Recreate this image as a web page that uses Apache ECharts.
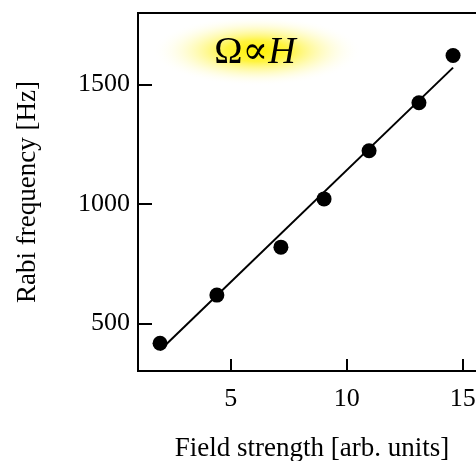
<!DOCTYPE html>
<html>
<head>
<meta charset="utf-8">
<script src="https://cdn.jsdelivr.net/npm/echarts@6/dist/echarts.min.js"></script>
<style>
html, body { margin: 0; padding: 0; background: #fff; }
#chart { width: 476px; height: 461px; }
</style>
</head>
<body>
<div id="chart"></div>
<script>
// measured points
var fieldStrength = [1.95, 4.4, 7.16, 9.02, 10.96, 13.11, 14.58];
var rabiFreq = [416, 618, 819, 1021, 1223, 1424, 1622];
// linear fit, drawn between its two end points
var fitX = [1.95, 14.58];
var fitY = [387, 1571];
var xTicks = [5, 10, 15];
var yTicks = [500, 1000, 1500];

var serif = '"Liberation Serif", "DejaVu Serif", serif';

var chart = echarts.init(document.getElementById('chart'));
chart.setOption({
    backgroundColor: '#fff',
    animation: false,
    grid: {
        left: 138,
        top: 13,
        bottom: 90,
        width: 348,
        outerBoundsMode: 'none',
        containLabel: false,
        show: true,
        borderColor: '#000',
        borderWidth: 2
    },
    xAxis: {
        type: 'value',
        min: 1,
        max: 16,
        name: 'Field strength [arb. units]',
        nameLocation: 'middle',
        nameGap: 64,
        nameTextStyle: { fontFamily: serif, fontSize: 27, color: '#000' },
        axisLine: { lineStyle: { color: '#000', width: 2 } },
        axisTick: { inside: true, length: 12, lineStyle: { color: '#000', width: 2 }, customValues: xTicks },
        axisLabel: { fontFamily: serif, fontSize: 26, color: '#000', margin: 15, customValues: xTicks,
            formatter: function (v) { return String(v); } },
        splitLine: { show: false }
    },
    yAxis: {
        type: 'value',
        min: 300,
        max: 1800,
        name: 'Rabi frequency [Hz]',
        nameLocation: 'middle',
        nameGap: 97,
        nameTextStyle: { fontFamily: serif, fontSize: 27, color: '#000' },
        axisLine: { lineStyle: { color: '#000', width: 2 } },
        axisTick: { inside: true, length: 14, lineStyle: { color: '#000', width: 2 }, customValues: yTicks },
        axisLabel: { fontFamily: serif, fontSize: 26, color: '#000', margin: 8, customValues: yTicks,
            formatter: function (v) { return String(v); } },
        splitLine: { show: false }
    },
    graphic: [
        {
            type: 'circle',
            shape: { cx: 0, cy: 0, r: 35 },
            x: 257,
            y: 51,
            scaleX: 3,
            scaleY: 1,
            style: {
                fill: {
                    type: 'radial', x: 0.5, y: 0.5, r: 0.5,
                    colorStops: [
                        { offset: 0, color: 'rgba(255,240,0,1)' },
                        { offset: 0.3, color: 'rgba(255,242,30,0.85)' },
                        { offset: 0.65, color: 'rgba(255,248,130,0.4)' },
                        { offset: 1, color: 'rgba(255,255,255,0)' }
                    ]
                }
            },
            z: 0
        },
        {
            type: 'text',
            x: 255,
            y: 53,
            style: {
                text: '{a|Ω∝}{b|H}',
                align: 'center',
                verticalAlign: 'middle',
                rich: {
                    a: { fontFamily: serif, fontSize: 38, fill: '#000' },
                    b: { fontFamily: serif, fontSize: 38, fontStyle: 'italic', fill: '#000' }
                }
            },
            z: 1
        }
    ],
    series: [
        {
            type: 'line',
            data: fitX.map(function (x, i) { return [x, fitY[i]]; }),
            symbol: 'none',
            lineStyle: { color: '#000', width: 2 },
            z: 2
        },
        {
            type: 'scatter',
            data: fieldStrength.map(function (x, i) { return [x, rabiFreq[i]]; }),
            symbol: 'circle',
            symbolSize: 15,
            itemStyle: { color: '#000', opacity: 1 },
            z: 3
        }
    ]
});
</script>
</body>
</html>
